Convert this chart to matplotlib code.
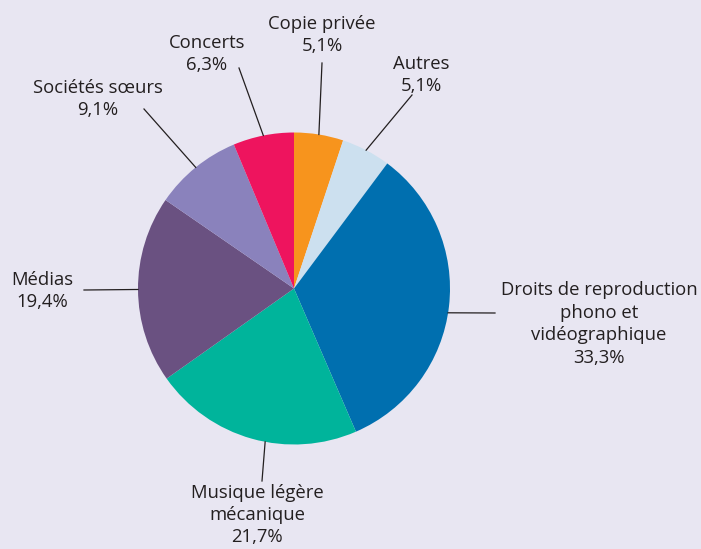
import numpy as np
import matplotlib.pyplot as plt

plt.rcParams['font.family'] = ['Open Sans', 'DejaVu Sans']

# parts of the total, clockwise from 12 o'clock
labels = ['Copie privée', 'Autres', 'Droits de reproduction\nphono et\nvidéographique',
          'Musique légère\nmécanique', 'Médias', 'Sociétés sœurs', 'Concerts']
shares = [5.1, 5.1, 33.3, 21.7, 19.4, 9.1, 6.3]
colors = ['#F7941D', '#CCE0EF', '#006FAF', '#00B49B', '#6A5181', '#8A82BC', '#EE145E']

# text centre and outer end of the leader line (pixels, y from top)
text_pos = [(322, 35), (421, 75), (599, 324), (257, 515), (42, 291), (98, 99), (207, 54)]
line_end = [(322, 63), (412, 95), (495, 313), (262, 481), (84, 290), (144, 109), (239, 68)]
angle_shift = [0, 0, -2.3, 5, 0, 0, 0]

W, H = 701, 549
bg = '#E8E6F2'
fig = plt.figure(figsize=(W / 100, H / 100), dpi=100, facecolor=bg)
ax = fig.add_axes([0, 0, 1, 1])
ax.set_facecolor(bg)

cx, cy, r = 294, H - 288.5, 156
wedges, _ = ax.pie(shares, colors=colors, startangle=90, counterclock=False,
                   center=(cx, cy), radius=r, frame=True,
                   wedgeprops=dict(linewidth=0))
ax.set_xlim(0, W)
ax.set_ylim(0, H)
ax.set_aspect('equal')
ax.axis('off')

for w, lab, val, tp, le, da in zip(wedges, labels, shares, text_pos, line_end, angle_shift):
    mid = np.deg2rad((w.theta1 + w.theta2) / 2 + da)
    x0 = cx + r * np.cos(mid)
    y0 = cy + r * np.sin(mid)
    ax.plot([x0, le[0]], [y0, H - le[1]], color='#231F20', lw=0.9)
    txt = lab + '\n' + ('%.1f%%' % val).replace('.', ',')
    ax.text(tp[0], H - tp[1], txt, ha='center', va='center', fontsize=13.3,
            color='#231F20', linespacing=1.32)

fig.savefig('out.png', dpi=100, facecolor=bg)
